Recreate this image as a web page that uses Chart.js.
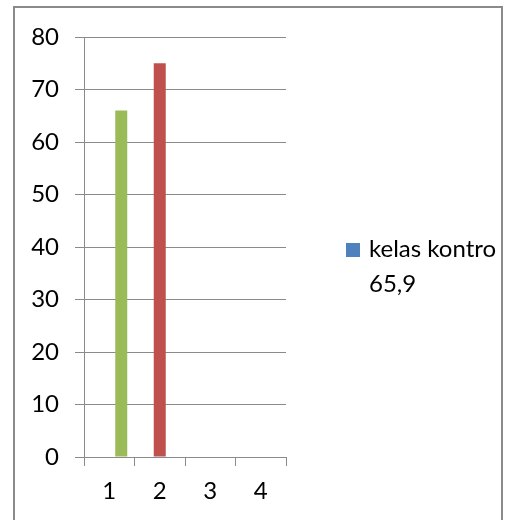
<!DOCTYPE html>
<html>
<head>
<meta charset="utf-8">
<script src="https://cdn.jsdelivr.net/npm/chart.js@4/dist/chart.umd.min.js"></script>
<style>
  html, body { margin: 0; padding: 0; background: #fff; width: 507px; height: 520px; overflow: hidden; }
  #frame { position: absolute; left: 13px; top: 6px; width: 486px; height: 600px; border: 2px solid #8a8a8a; box-sizing: content-box; }
  #c { position: absolute; left: 0; top: 0; }
  #legend { position: absolute; left: 346px; top: 230px; width: 151px; overflow: hidden; font-family: Lato, "Noto Sans", sans-serif; font-size: 24px; color: #000; line-height: 35px; }
  #legend .sw { position: absolute; left: 0; top: 13px; width: 14px; height: 14px; }
  #legend .txt { margin-left: 23px; white-space: nowrap; }
</style>
</head>
<body>
<div id="frame"></div>
<canvas id="c" width="507" height="520"></canvas>
<div id="legend"></div>
<script>
const categories = ["1", "2", "3", "4"];
const seriesNames = ["kelas kontrol 65,9", "", ""];
const seriesBlue = [null, null, null, null];
const seriesRed = [null, 75, null, null];
const seriesGreen = [66, null, null, null];
const yTicks = [0, 10, 20, 30, 40, 50, 60, 70, 80];
const colors = ["#4F81BD", "#C0504D", "#9BBB59"];

const FONT = "Lato, 'Noto Sans', sans-serif";
const gridColor = "#8a8a8a";

const chart = new Chart(document.getElementById("c"), {
  type: "bar",
  data: {
    labels: categories,
    datasets: [
      { label: seriesNames[0], data: seriesBlue, backgroundColor: colors[0] },
      { label: seriesNames[1], data: seriesRed, backgroundColor: colors[1] },
      { label: seriesNames[2], data: seriesGreen, backgroundColor: colors[2] }
    ]
  },
  options: {
    responsive: false,
    maintainAspectRatio: false,
    animation: false,
    devicePixelRatio: 1,
    layout: { padding: { left: 0, top: 37, right: 221, bottom: 0 } },
    datasets: { bar: { categoryPercentage: 0.713, barPercentage: 1.0 } },
    plugins: { legend: { display: false }, tooltip: { enabled: false } },
    scales: {
      x: {
        afterFit: s => { s.height = 63; },
        grid: { display: true, drawOnChartArea: false, drawTicks: true, tickLength: 9, color: gridColor, lineWidth: 1, offset: true },
        border: { display: true, color: gridColor, width: 1 },
        ticks: { color: "#000", font: { family: FONT, size: 24 }, padding: 11, maxRotation: 0 }
      },
      y: {
        min: 0, max: 80,
        afterFit: s => { s.width = 84; },
        afterBuildTicks: s => { s.ticks = yTicks.map(v => ({ value: v })); },
        grid: { display: true, drawOnChartArea: true, drawTicks: true, tickLength: 9, color: gridColor, lineWidth: 1 },
        border: { display: true, color: gridColor, width: 1 },
        ticks: { color: "#000", font: { family: FONT, size: 24 }, padding: 16 }
      }
    }
  }
});

// HTML legend (only the first series is listed, as in the original)
const lg = document.getElementById("legend");
const parts = seriesNames[0].split(" ");
const line1 = parts.slice(0, 2).join(" ");
const line2 = parts.slice(2).join(" ");
lg.innerHTML = '<div class="sw" style="background:' + colors[0] + '"></div>' +
  '<div class="txt">' + line1 + '</div><div class="txt">' + line2 + '</div>';
</script>
</body>
</html>
